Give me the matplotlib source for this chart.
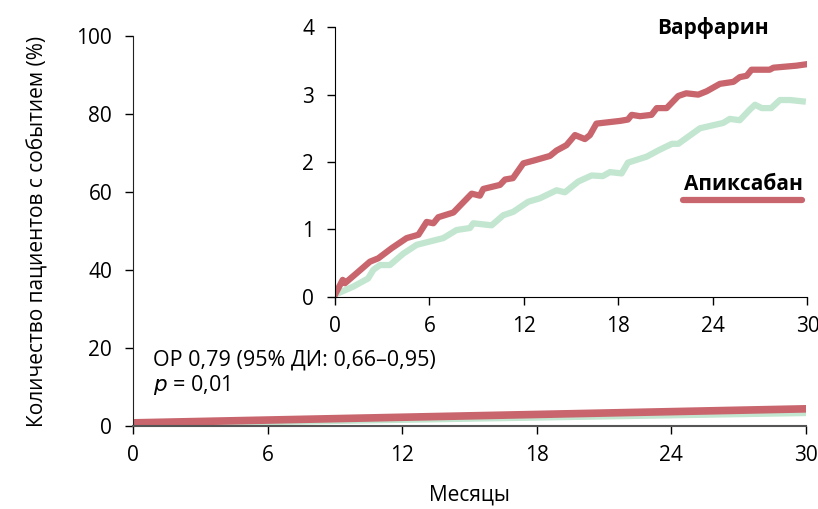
import matplotlib.pyplot as plt

plt.rcParams['font.family'] = ['Open Sans', 'DejaVu Sans']

# inset curves, months and % with event
red_months = [0, 0.49, 0.63, 1.38, 2.22, 2.75, 3.6, 4.55, 5.3, 5.82, 6.25, 6.56, 7.52,
              8.68, 9.2, 9.42, 10.48, 10.8, 11.3, 11.96, 12.6, 13.65, 14.07, 14.7,
              15.24, 15.87, 16.19, 16.6, 18.1, 18.6, 18.84, 19.37, 20.1, 20.43, 21.06,
              21.8, 22.3, 23.07, 23.6, 24.44, 25.3, 25.7, 26.14, 26.45, 27.6, 27.84,
              29.3, 29.9]
red_values = [0.03, 0.25, 0.2, 0.35, 0.52, 0.57, 0.72, 0.87, 0.92, 1.11, 1.09, 1.18, 1.25,
              1.53, 1.5, 1.6, 1.66, 1.74, 1.76, 1.98, 2.02, 2.09, 2.17, 2.25,
              2.4, 2.34, 2.4, 2.57, 2.61, 2.63, 2.7, 2.68, 2.7, 2.8, 2.8,
              2.98, 3.02, 3.0, 3.05, 3.16, 3.19, 3.26, 3.28, 3.37, 3.37, 3.4,
              3.43, 3.45]

green_months = [0, 1.16, 2.1, 2.44, 2.86, 3.49, 4.34, 5.19, 6.03, 6.88, 7.72, 8.57, 8.78,
                9.95, 10.69, 11.32, 12.27, 13.0, 14.07, 14.6, 15.45, 16.3, 17.0, 17.46,
                18.2, 18.6, 19.8, 20.6, 21.4, 21.8, 23.17, 24.65, 25.07, 25.7, 26.35,
                26.67, 27.1, 27.7, 28.25, 28.9, 29.7]
green_values = [0.03, 0.15, 0.27, 0.4, 0.47, 0.47, 0.64, 0.77, 0.82, 0.87, 0.99, 1.02, 1.09,
                1.06, 1.21, 1.26, 1.41, 1.46, 1.58, 1.55, 1.71, 1.8, 1.79, 1.85,
                1.83, 1.99, 2.08, 2.18, 2.27, 2.27, 2.5, 2.58, 2.64, 2.62, 2.78,
                2.85, 2.8, 2.8, 2.92, 2.92, 2.9]

# main panel (0-100 scale)
main_months = [0, 30]
main_red = [0.8, 4.4]
main_green = [0.6, 3.5]

x_ticks = [0, 6, 12, 18, 24, 30]
main_y_ticks = [0, 20, 40, 60, 80, 100]
inset_y_ticks = [0, 1, 2, 3, 4]

red = '#c8656d'
green = '#c2e6d0'

fig = plt.figure(figsize=(8.18, 5.09), dpi=100)

ax = fig.add_axes([0.1626, 0.1631, 0.8227, 0.7662])
ax.plot(main_months, main_green, color=green, lw=5.5, solid_capstyle='round')
ax.plot(main_months, main_red, color=red, lw=5.5, solid_capstyle='round')
ax.set_xlim(0, 30)
ax.set_ylim(0, 100)
ax.set_xticks(x_ticks)
ax.set_yticks(main_y_ticks)
ax.spines[['top', 'right']].set_visible(False)
ax.spines['left'].set_color('#222222')
ax.spines['bottom'].set_color('#555555')
ax.spines['bottom'].set_linewidth(1.5)
ax.tick_params(labelsize=15, length=6, width=1)
ax.tick_params(axis='x', pad=8)
ax.tick_params(axis='y', pad=9)
ax.set_xlabel('Месяцы', fontsize=15, labelpad=13)
ax.set_ylabel('Количество пациентов с событием (%)', fontsize=15, labelpad=20)
ax.text(0.9, 17, 'ОР 0,79 (95% ДИ: 0,66–0,95)', fontsize=15.5, va='center')
ax.text(0.9, 10.5, '$\\it{p}$ = 0,01', fontsize=15.5, va='center')

ins = fig.add_axes([0.4095, 0.4171, 0.5776, 0.5293])
ins.plot(green_months, green_values, color=green, lw=4.5, solid_joinstyle='round')
ins.plot(red_months, red_values, color=red, lw=4.5, solid_joinstyle='round')
ins.set_xlim(0, 30)
ins.set_ylim(0, 4)
ins.set_xticks(x_ticks)
ins.set_yticks(inset_y_ticks)
ins.patch.set_alpha(0)
ins.spines[['top', 'right']].set_visible(False)
ins.tick_params(labelsize=15, length=6, width=1)
ins.tick_params(axis='x', pad=8)
ins.tick_params(axis='y', pad=9)

# labels
fig.text(713 / 818, 1 - 28 / 509, 'Варфарин', fontsize=15, fontweight='bold',
         ha='center', va='center')
fig.text(743 / 818, 1 - 184 / 509, 'Апиксабан', fontsize=15, fontweight='bold',
         ha='center', va='center')
fig.add_artist(plt.Line2D([683 / 818, 802 / 818], [1 - 200 / 509, 1 - 200 / 509],
                          color=red, lw=4.5, solid_capstyle='round'))

fig.savefig('out.png', dpi=100)
